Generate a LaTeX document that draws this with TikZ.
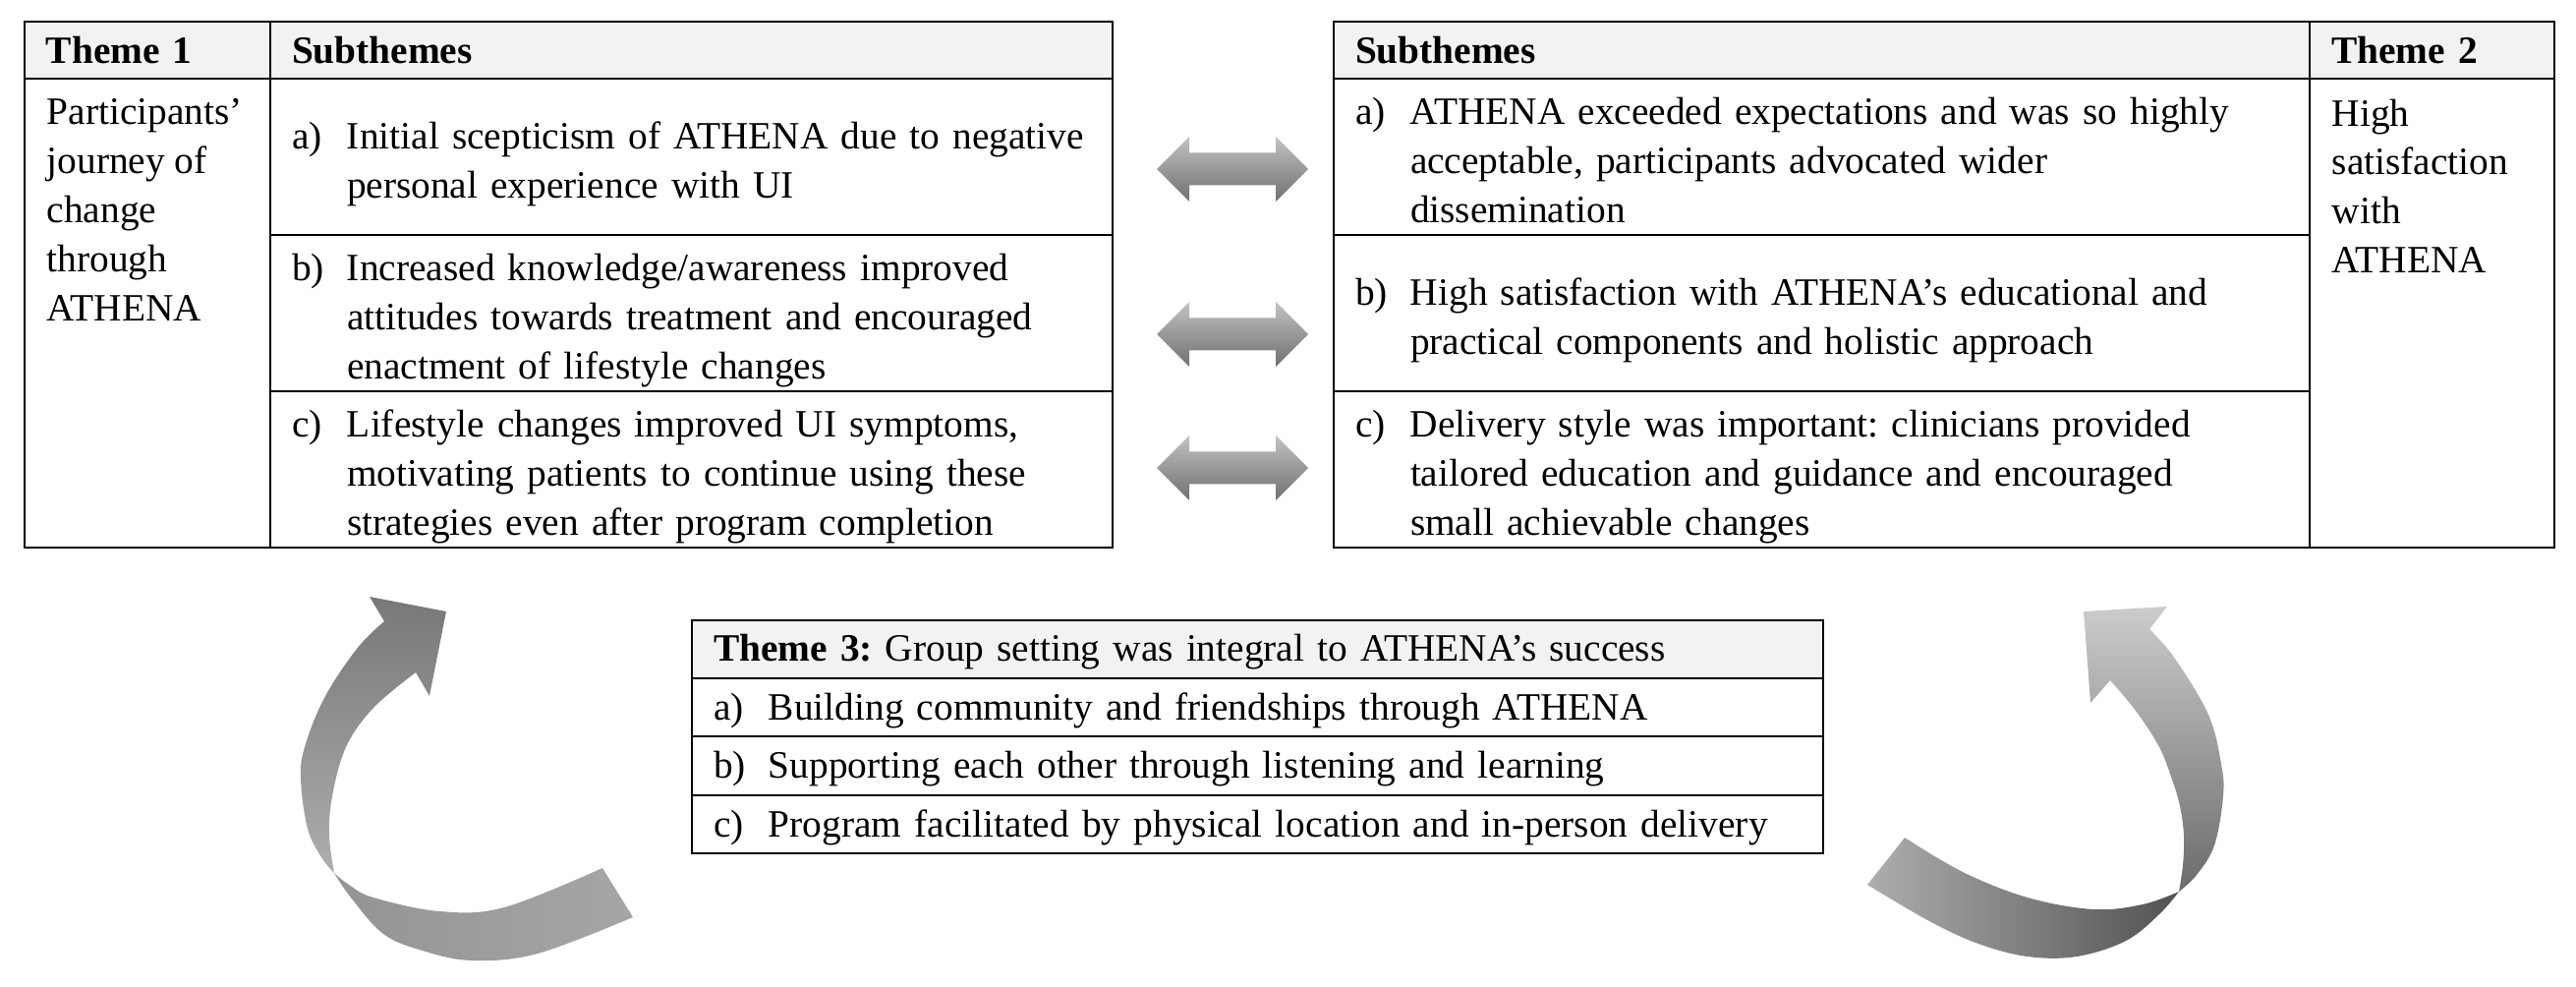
\documentclass[tikz,border=0pt]{standalone}
\usepackage{fontspec}
\setmainfont{Liberation Serif}
\usetikzlibrary{positioning}

\definecolor{hdrgray}{gray}{0.95}
\newcommand{\tabfont}{\fontsize{11.2pt}{14.2pt}\selectfont\frenchspacing}
% label a), b), c) with a hanging block of lines, set a bit low
\newcommand{\subthm}[3][0.7mm]{\raisebox{-#1}[\height][\depth]{%
    \begin{tabular}{@{}p{5.6mm}@{}l@{}}#2 &
    \begin{tabular}[t]{@{}l@{}}#3\end{tabular}\end{tabular}}}

\begin{document}
\begin{tikzpicture}[
    x=0.1mm, y=-0.1mm,
    cell/.style={draw=black, line width=0.45pt, anchor=north west,
        inner xsep=2.2mm, inner ysep=0pt, outer sep=0pt,
        align=left, font=\tabfont},
    hdr/.style={cell, fill=hdrgray, minimum height=5.8mm},
    lsub/.style={cell, minimum width=85.7mm, text width=81.3mm,
        minimum height=15.9mm},
    rsub/.style={cell, minimum width=99.3mm, text width=94.9mm,
        minimum height=15.9mm},
    trow/.style={cell, minimum width=115.1mm, text width=110.7mm,
        minimum height=5.9mm},
    thmtxt/.style={inner sep=0pt, align=left, font=\tabfont},
    dblarr/.style={top color=black!24, bottom color=black!56},
]
\useasboundingbox (0,0) rectangle (2621,1004);

%------------------------------------------------
% Theme 1
%------------------------------------------------
\node[hdr, minimum width=25mm, text width=20.6mm] (t1hd) at (25,22)
    {\textbf{Theme 1}};
\node[hdr, minimum width=85.7mm, text width=81.3mm] (s1hd) at (275,22)
    {\textbf{Subthemes}};

\node[cell, minimum width=25mm, minimum height=47.7mm] (t1body) at (25,80) {};
\node[thmtxt, below right=2mm and 2.2mm of t1body.north west] (t1txt)
    {Participants'\\journey of\\change\\through\\ATHENA};

\node[lsub] (s1a) at (275,80)
    {\subthm{a)}{Initial scepticism of ATHENA due to negative\\
    personal experience with UI}};
\node[lsub] (s1b) at (275,239)
    {\subthm{b)}{Increased knowledge/awareness improved\\
    attitudes towards treatment and encouraged\\
    enactment of lifestyle changes}};
\node[lsub] (s1c) at (275,398)
    {\subthm{c)}{Lifestyle changes improved UI symptoms,\\
    motivating patients to continue using these\\
    strategies even after program completion}};

%------------------------------------------------
% Theme 2
%------------------------------------------------
\node[hdr, minimum width=99.3mm, text width=94.9mm] (s2hd) at (1357,22)
    {\textbf{Subthemes}};
\node[hdr, minimum width=24.9mm, text width=20.5mm] (t2hd) at (2350,22)
    {\textbf{Theme 2}};

\node[rsub] (s2a) at (1357,80)
    {\subthm{a)}{ATHENA exceeded expectations and was so highly\\
    acceptable, participants advocated wider\\
    dissemination}};
\node[rsub] (s2b) at (1357,239)
    {\subthm{b)}{High satisfaction with ATHENA's educational and\\
    practical components and holistic approach}};
\node[rsub] (s2c) at (1357,398)
    {\subthm{c)}{Delivery style was important: clinicians provided\\
    tailored education and guidance and encouraged\\
    small achievable changes}};

\node[cell, minimum width=24.9mm, minimum height=47.7mm] (t2body) at (2350,80) {};
\node[thmtxt, below right=2mm and 2.2mm of t2body.north west] (t2txt)
    {High\\satisfaction\\with\\ATHENA};

%------------------------------------------------
% Theme 3
%------------------------------------------------
\node[trow, fill=hdrgray] (t3hd) at (704,631)
    {\raisebox{-0.3mm}[\height][\depth]{\textbf{Theme 3:} Group setting
    was integral to ATHENA's success}};
\node[trow] (t3a) at (704,690)
    {\subthm[0.3mm]{a)}{Building community and friendships through ATHENA}};
\node[trow, minimum height=6mm] (t3b) at (704,749)
    {\subthm[0.3mm]{b)}{Supporting each other through listening and learning}};
\node[trow] (t3c) at (704,809)
    {\subthm[0.3mm]{c)}{Program facilitated by physical location and in-person delivery}};

%------------------------------------------------
% double arrows between the rows
%------------------------------------------------
\foreach \yc in {172,340,476}
    \shade[dblarr] (1177,\yc) -- (1210,\yc-33) -- (1210,\yc-16.5)
        -- (1298,\yc-16.5) -- (1298,\yc-33) -- (1331,\yc)
        -- (1298,\yc+33) -- (1298,\yc+16.5) -- (1210,\yc+16.5)
        -- (1210,\yc+33) -- cycle;

%------------------------------------------------
% curved arrows (ribbon with a twist)
%------------------------------------------------
% left, bottom piece
\shade[left color=black!42, right color=black!35]
    plot[smooth, tension=0.6] coordinates {(340,888) (357,913) (390,950)
        (430,967) (480,977) (547,970) (644,933)}
    -- plot[smooth, tension=0.6] coordinates {(613,883) (513,923)
        (447,927) (380,913) (355,900) (340,888)} -- cycle;
% left, rising piece with head
\shade[top color=black!53, bottom color=black!32]
    plot[smooth, tension=0.6] coordinates {(340,888) (335,850) (338,810)
        (352,760) (380,720) (423,684)}
    -- (437,708) -- (454,622) -- (376,607)
    -- plot[smooth, tension=0.6] coordinates {(391,632) (363,660)
        (330,710) (310,760) (306,793) (313,843) (327,872) (340,888)} -- cycle;

% right, bottom piece
\shade[left color=black!32, right color=black!68]
    plot[smooth, tension=0.6] coordinates {(2217,907) (2197,930)
        (2163,957) (2113,973) (2063,973) (2013,960) (1963,937) (1900,900)}
    -- plot[smooth, tension=0.6] coordinates {(1938,852) (1997,887)
        (2063,913) (2130,925) (2180,920) (2217,907)} -- cycle;
% right, rising piece with head
\shade[top color=black!20, bottom color=black!58]
    plot[smooth, tension=0.6] coordinates {(2217,907) (2221,880)
        (2222,850) (2218,820) (2210,793) (2197,760) (2173,723) (2147,692)}
    -- (2127,715) -- (2120,622) -- (2205,617)
    -- plot[smooth, tension=0.6] coordinates {(2187,640) (2213,670)
        (2247,727) (2260,777) (2262,810) (2253,860) (2235,890) (2217,907)}
    -- cycle;

\end{tikzpicture}
\end{document}
